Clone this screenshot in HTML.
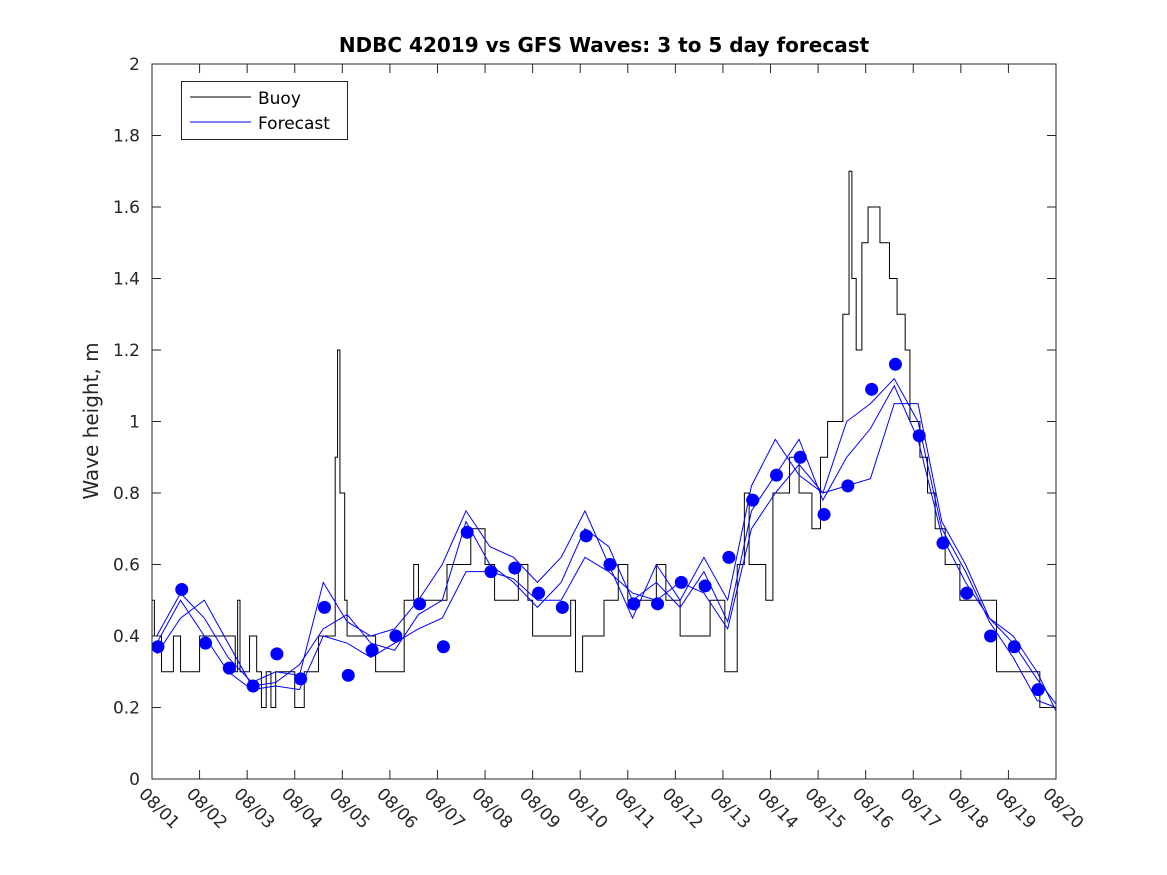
<!DOCTYPE html>
<html><head><meta charset="utf-8">
<style>
html,body{margin:0;padding:0;background:#fff;}
svg{display:block;font-family:"DejaVu Sans","Liberation Sans",sans-serif;}
</style></head>
<body>
<svg id="chart" width="1167" height="875" viewBox="0 0 1167 875" xmlns="http://www.w3.org/2000/svg">
<rect x="0" y="0" width="1167" height="875" fill="#fff"/>
<text x="604" y="52" text-anchor="middle" font-size="20" font-weight="bold" fill="#000">NDBC 42019 vs GFS Waves: 3 to 5 day forecast</text>
<text transform="translate(98,421) rotate(-90)" text-anchor="middle" font-size="20" fill="#262626">Wave height, m</text>
<g id="series"></g>
<rect x="152" y="64" width="904" height="715" fill="none" stroke="#262626" stroke-width="1"/>
<g id="ticks"></g>
<g>
<rect x="181.5" y="81.5" width="166" height="58" fill="#fff" stroke="#262626" stroke-width="1"/>
<line x1="190" y1="97" x2="251" y2="97" stroke="#000" stroke-width="1"/>
<text x="258" y="104" font-size="17" fill="#000">Buoy</text>
<line x1="190" y1="122" x2="251" y2="122" stroke="#0000ff" stroke-width="1"/>
<text x="258" y="129" font-size="17" fill="#000">Forecast</text>
</g>
</svg>
<script>
const xTickLabels = ["08/01","08/02","08/03","08/04","08/05","08/06","08/07","08/08","08/09","08/10","08/11","08/12","08/13","08/14","08/15","08/16","08/17","08/18","08/19","08/20"];
const yTickLabels = ["0","0.2","0.4","0.6","0.8","1","1.2","1.4","1.6","1.8","2"];
const yTickValues = [0,0.2,0.4,0.6,0.8,1,1.2,1.4,1.6,1.8,2];
const buoyDays = [0,0.05,0.2,0.45,0.6,1.0,1.75,1.8,1.85,2.05,2.2,2.3,2.4,2.5,2.6,2.8,3.0,3.2,3.5,3.8,3.85,3.9,3.95,4.05,4.1,4.5,4.7,5.0,5.3,5.5,5.6,5.8,6.2,6.4,6.7,7.0,7.2,7.5,7.7,7.9,8.0,8.3,8.8,8.9,9.05,9.5,9.8,10.0,10.3,10.6,10.8,11.1,11.73,12.04,12.3,12.45,12.55,12.9,13.05,13.4,13.6,13.87,14.05,14.2,14.52,14.65,14.71,14.8,14.92,15.05,15.3,15.5,15.66,15.83,15.93,16.14,16.3,16.46,16.67,16.98,17.75,18.66];
const buoyVals = [0.5,0.4,0.3,0.4,0.3,0.4,0.3,0.5,0.3,0.4,0.3,0.2,0.3,0.2,0.3,0.3,0.2,0.3,0.4,0.4,0.9,1.2,0.8,0.5,0.4,0.4,0.3,0.3,0.5,0.6,0.5,0.5,0.6,0.6,0.7,0.6,0.5,0.5,0.6,0.5,0.4,0.4,0.5,0.3,0.4,0.5,0.6,0.5,0.5,0.6,0.5,0.4,0.5,0.3,0.6,0.8,0.6,0.5,0.8,0.9,0.8,0.7,0.9,1.0,1.3,1.7,1.4,1.2,1.5,1.6,1.5,1.4,1.3,1.2,1.0,0.9,0.8,0.7,0.6,0.5,0.3,0.2];
const dotDays = [0.125,0.625,1.125,1.625,2.125,2.625,3.125,3.625,4.125,4.625,5.125,5.625,6.125,6.625,7.125,7.625,8.125,8.625,9.125,9.625,10.125,10.625,11.125,11.625,12.125,12.625,13.125,13.625,14.125,14.625,15.125,15.625,16.125,16.625,17.125,17.625,18.125,18.625];
const dotVals = [0.37,0.53,0.38,0.31,0.26,0.35,0.28,0.48,0.29,0.36,0.40,0.49,0.37,0.69,0.58,0.59,0.52,0.48,0.68,0.60,0.49,0.49,0.55,0.54,0.62,0.78,0.85,0.90,0.74,0.82,1.09,1.16,0.96,0.66,0.52,0.40,0.37,0.25];
const fcA = [0.40,0.52,0.45,0.34,0.27,0.30,0.29,0.55,0.44,0.40,0.42,0.50,0.60,0.75,0.65,0.62,0.55,0.62,0.75,0.60,0.45,0.60,0.50,0.62,0.50,0.82,0.95,0.85,0.80,1.00,1.05,1.12,1.00,0.70,0.58,0.44,0.34,0.22,0.20];
const fcB = [0.35,0.45,0.50,0.38,0.26,0.27,0.32,0.42,0.46,0.38,0.36,0.46,0.50,0.72,0.60,0.55,0.48,0.55,0.70,0.65,0.50,0.55,0.48,0.58,0.44,0.75,0.85,0.95,0.78,0.90,0.98,1.10,0.95,0.68,0.55,0.45,0.38,0.28,0.21];
const fcC = [0.38,0.50,0.40,0.30,0.25,0.26,0.25,0.40,0.38,0.34,0.38,0.42,0.45,0.58,0.58,0.56,0.50,0.50,0.62,0.58,0.52,0.50,0.55,0.52,0.42,0.70,0.80,0.88,0.80,0.82,0.84,1.05,1.05,0.72,0.60,0.45,0.40,0.30,0.19];
const fcStart = 0.1;
const fcStep = 0.5;

const NS = "http://www.w3.org/2000/svg";
const X0 = 152, X1 = 1056, Y0 = 779, Y1 = 64;
function xs(d){ return X0 + d * (X1 - X0) / 19; }
function ys(v){ return Y0 - v * (Y0 - Y1) / 2; }
function mk(tag, attrs, parent){ const e = document.createElementNS(NS, tag); for (const k in attrs) e.setAttribute(k, attrs[k]); parent.appendChild(e); return e; }

const ticks = document.getElementById('ticks');
xTickLabels.forEach((lab, i) => {
  const x = xs(i);
  const t1 = mk('line', {x1:x, y1:Y0, x2:x, y2:Y0-9, stroke:'#262626'}, ticks);
  
  
  const t2 = mk('line', {x1:x, y1:Y1, x2:x, y2:Y1+9, stroke:'#262626'}, ticks);
  
  
  const t = mk('text', {transform:`translate(${x-14},${Y0+16}) rotate(45)`, 'font-size':17, fill:'#262626'}, ticks);
  t.textContent = lab;
  
  
});
yTickValues.forEach((v, i) => {
  const y = ys(v);
  const t1 = mk('line', {x1:X0, y1:y, x2:X0+9, y2:y, stroke:'#262626'}, ticks);
  
  
  const t2 = mk('line', {x1:X1, y1:y, x2:X1-9, y2:y, stroke:'#262626'}, ticks);
  
  
  const t = mk('text', {x:X0-12, y:y+6, 'text-anchor':'end', 'font-size':17, fill:'#262626'}, ticks);
  t.textContent = yTickLabels[i];
  
  
});

const series = document.getElementById('series');
let d = '';
buoyDays.forEach((day, i) => {
  const x = xs(day), y = ys(buoyVals[i]);
  if (i === 0) d += `M${x},${y}`;
  else d += `H${x}V${y}`;
});
d += `H${xs(19)}`;
const bp = mk('path', {d:d, fill:'none', stroke:'#000', 'stroke-width':1}, series);



[fcA, fcB, fcC].forEach((arr, k) => {
  const pts = arr.map((v, i) => `${xs(Math.min(19, fcStart + i*fcStep))},${ys(v)}`).join(' ');
  const pl = mk('polyline', {points:pts, fill:'none', stroke:'#0000ff', 'stroke-width':1}, series);
  
  
});
dotDays.forEach((day, i) => {
  const c = mk('circle', {cx:xs(day), cy:ys(dotVals[i]), r:6.5, fill:'#0000ff'}, series);
  
  
});
</script>
</body></html>
